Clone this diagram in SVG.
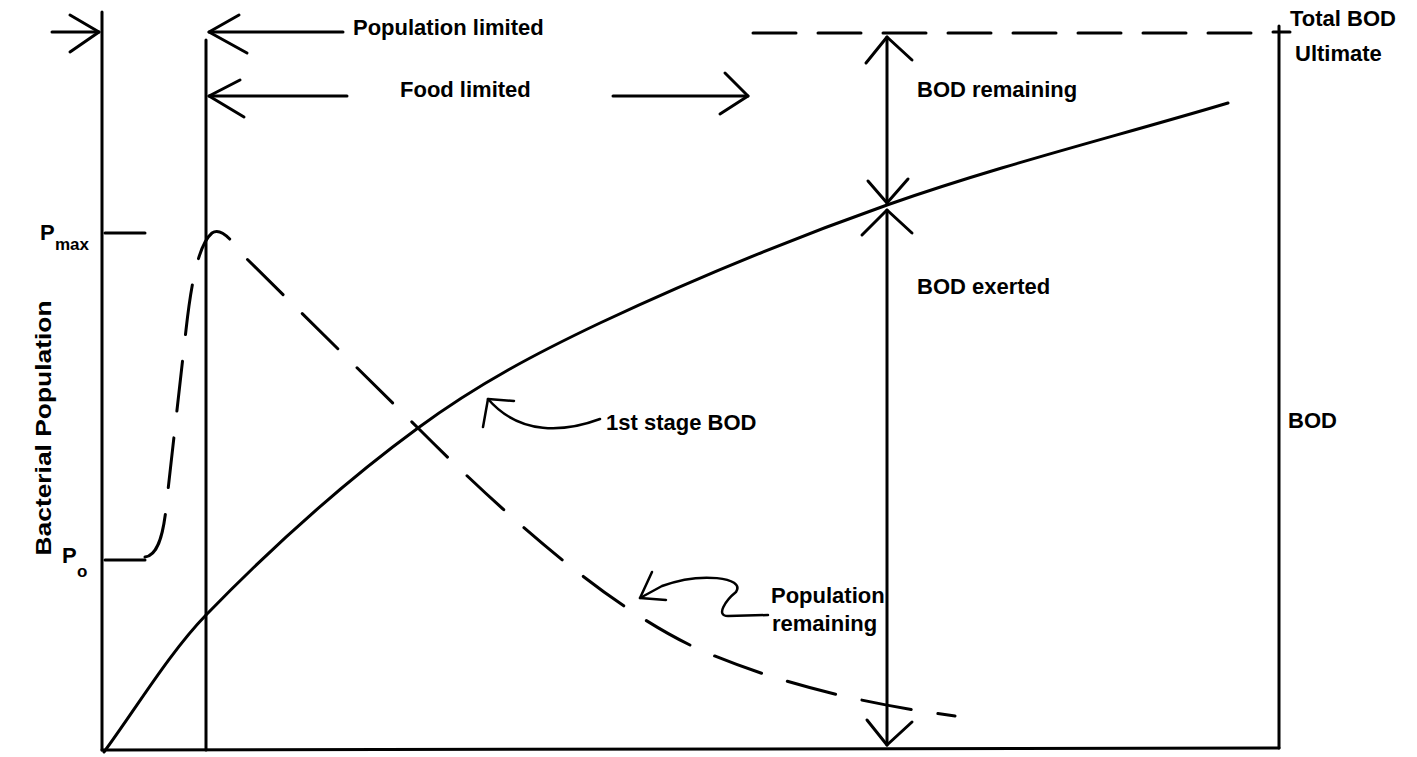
<svg xmlns="http://www.w3.org/2000/svg" width="1417" height="757" viewBox="0 0 1417 757">
<style>
.ln{stroke:#000;stroke-width:3;fill:none;stroke-linecap:round;stroke-linejoin:round}
.thin{stroke:#000;stroke-width:2.5;fill:none;stroke-linecap:round;stroke-linejoin:round}
.dash{stroke:#000;stroke-width:3;fill:none;stroke-linecap:round;stroke-dasharray:43 22}
.pop{stroke:#000;stroke-width:3;fill:none;stroke-linecap:round;stroke-dasharray:50 27}
.t{font-family:"Liberation Sans",Arial,sans-serif;font-weight:bold;font-size:22px;fill:#000}
.s{font-family:"Liberation Sans",Arial,sans-serif;font-weight:bold;font-size:17px;fill:#000}
</style>
<rect width="1417" height="757" fill="#fff"/>
<g id="axes">
<line class="ln" x1="102" y1="12" x2="102" y2="750"/>
<line class="ln" x1="102" y1="750" x2="1279" y2="748"/>
<line class="ln" x1="1279" y1="26" x2="1279" y2="748"/>
<line class="ln" x1="206" y1="40" x2="206" y2="750"/>
<line class="ln" x1="105" y1="233" x2="145" y2="233"/>
<line class="ln" x1="105" y1="560" x2="145" y2="560"/>
<line class="ln" x1="1273" y1="32" x2="1290" y2="32"/>
</g>
<g id="connectors">
<line class="dash" x1="753" y1="33" x2="1256" y2="33"/>
<path class="ln" d="M104,752 C135,710 170,652 206,615 C277,542 347,480 418,428 C479,383 539,352 600,323 C696,278 791,239 887,205 C1001,165 1114,137 1228,103"/>
<path class="pop" d="M145,557 C162,555 165,520 168,490 L186,330 C191,285 198,245 212,233 C222,226 232,242 246,258 L418,428 C520,530 620,615 705,652 C790,688 880,706 955,716"/>
</g>
<g id="arrow-top-left">
<line class="ln" x1="52" y1="32" x2="99" y2="32"/>
<polyline class="ln" points="70,15 99,32 70,52"/>
</g>
<g id="arrow-population-limited">
<line class="ln" x1="209" y1="32" x2="343" y2="32"/>
<polyline class="ln" points="239,15 209,32 247,53"/>
</g>
<g id="arrow-food-limited">
<line class="ln" x1="209" y1="96" x2="347" y2="96"/>
<polyline class="ln" points="240,80 209,96 244,117"/>
<line class="ln" x1="613" y1="96" x2="748" y2="96"/>
<polyline class="ln" points="725,73 748,96 720,114"/>
</g>
<g id="arrow-bod-remaining">
<line class="ln" x1="887" y1="37" x2="887" y2="203"/>
<polyline class="ln" points="866,63 887,37 912,60"/>
<polyline class="ln" points="868,181 887,203 908,179"/>
</g>
<g id="arrow-bod-exerted">
<line class="ln" x1="887" y1="210" x2="887" y2="745"/>
<polyline class="ln" points="862,235 887,210 912,233"/>
<polyline class="ln" points="867,720 887,745 912,722"/>
</g>
<g id="arrow-1st-stage">
<path class="thin" d="M600,419 C565,432 520,436 488,399"/>
<polyline class="thin" points="514,401 488,399 483,427"/>
</g>
<g id="arrow-pop-remaining">
<path class="thin" d="M768,615 L728,616 C715,616 726,600 736,592 C746,577 700,572 662,586 L640,598"/>
<polyline class="thin" points="652,572 640,598 666,600"/>
</g>
<g id="labels">
<text class="t" x="353" y="35">Population limited</text>
<text class="t" x="400" y="97">Food limited</text>
<text class="t" x="917" y="97">BOD remaining</text>
<text class="t" x="1290" y="26">Total BOD</text>
<text class="t" x="1295" y="61">Ultimate</text>
<text class="t" x="917" y="294">BOD exerted</text>
<text class="t" x="606" y="430">1st stage BOD</text>
<text class="t" x="771" y="603">Population</text>
<text class="t" x="772" y="631">remaining</text>
<text class="t" x="1288" y="428">BOD</text>
<text class="t" transform="translate(51,428) rotate(-90)" text-anchor="middle" textLength="255" lengthAdjust="spacingAndGlyphs">Bacterial Population</text>
<text class="t" x="40" y="240">P</text>
<text class="s" x="55" y="250">max</text>
<text class="t" x="62" y="563">P</text>
<text class="s" x="77" y="577">o</text>
</g>
</svg>
